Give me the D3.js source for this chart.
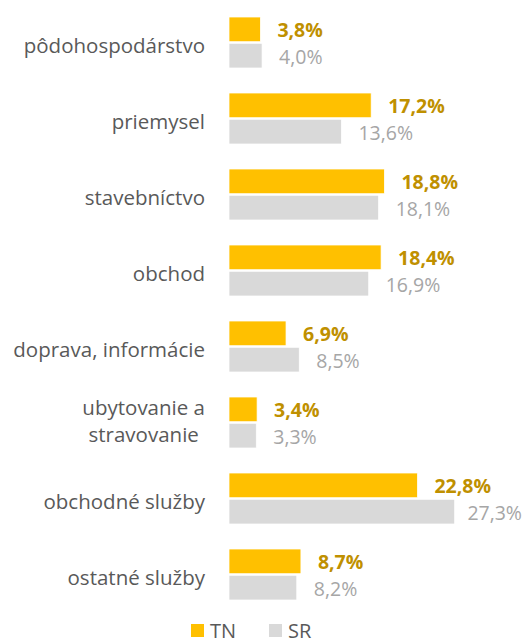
<!DOCTYPE html>
<html>
<head>
  <meta charset="UTF-8">
  <style>
    body {
      margin: 0;
      padding: 0;
      background-color: #fff;
      font-family: "Open Sans", sans-serif;
    }
    svg {
      display: block;
    }
  </style>
</head>
<body>
<svg></svg>
<script src="https://d3js.org/d3.v7.min.js"></script>

<script>
  // data
  let categories = ["pôdohospodárstvo", "priemysel", "stavebníctvo", "obchod",
    "doprava, informácie", "ubytovanie a\nstravovanie", "obchodné služby", "ostatné služby"];
  let series = ["TN", "SR"];
  let tnValues = [3.8, 17.2, 18.8, 18.4, 6.9, 3.4, 22.8, 8.7];
  let srValues = [4.0, 13.6, 18.1, 16.9, 8.5, 3.3, 27.3, 8.2];

  let width = 524, height = 640;
  let colors = { TN: "#FFC000", SR: "#D9D9D9" };
  let labelColors = { TN: "#BF9000", SR: "#A6A6A6" };

  let svg = d3.select("svg")
      .attr("width", width)
      .attr("height", height);

  let rows = categories.map((c, i) => ({ cat: c, TN: tnValues[i], SR: srValues[i] }));

  // scales
  let x = d3.scaleLinear()
      .domain([0, 30])
      .range([229, 229 + 248]);

  let y = d3.scaleBand()
      .domain(categories)
      .range([4.5, 612.5])
      .paddingInner(25 / 76)
      .paddingOuter(25 / 152);

  let ySub = d3.scaleBand()
      .domain(series)
      .range([0, y.bandwidth()])
      .paddingInner(0.06);

  let fmt = v => d3.format(".1f")(v).replace(".", ",") + "%";

  // bars + value labels
  let groups = svg.append("g")
      .selectAll("g")
      .data(rows)
      .enter()
      .append("g")
      .attr("transform", d => `translate(0, ${y(d.cat)})`);

  series.forEach(s => {
    groups.append("rect")
        .attr("x", x(0))
        .attr("y", ySub(s))
        .attr("width", d => x(d[s]) - x(0))
        .attr("height", ySub.bandwidth())
        .attr("fill", colors[s])
        .attr("stroke", "#fff")
        .attr("stroke-width", 0.75);

    groups.append("text")
        .attr("y", ySub(s) + ySub.bandwidth() / 2 + 8)
        .attr("font-size", "19.5px")
        .attr("font-weight", s === "TN" ? "bold" : "normal")
        .attr("fill", labelColors[s])
        .text(d => fmt(d[s]))
        .attr("x", function (d) {
          // keep the label inside the chart, like Excel does
          let w = this.getComputedTextLength();
          return Math.min(x(d[s]) + 17, width - 2 - w);
        });
  });

  // category labels (right aligned, multi-line ones centered within themselves)
  groups.each(function (d) {
    let lines = d.cat.split("\n");
    let cy = y.bandwidth() / 2;
    let g = d3.select(this);
    if (lines.length === 1) {
      g.append("text")
          .attr("x", 205)
          .attr("y", cy + 10.8)
          .attr("text-anchor", "end")
          .attr("font-size", "20.5px")
          .attr("fill", "#595959")
          .text(lines[0]);
    } else {
      let t = g.append("text")
          .attr("font-size", "20.5px")
          .attr("fill", "#595959")
          .attr("text-anchor", "middle");
      let spans = lines.map((l, i) => t.append("tspan")
          .attr("y", cy - 7.5 + i * 27)
          .text(l));
      let maxW = d3.max(spans, sp => sp.node().getComputedTextLength());
      spans.forEach(sp => sp.attr("x", 205 - maxW / 2));
    }
  });

  // legend
  let legend = svg.append("g")
      .selectAll("g")
      .data(series)
      .enter()
      .append("g")
      .attr("transform", (d, i) => `translate(${191 + i * 78}, 624)`);

  legend.append("rect")
      .attr("width", 13)
      .attr("height", 13)
      .attr("fill", d => colors[d]);

  legend.append("text")
      .attr("x", 19)
      .attr("y", 14)
      .attr("font-size", "20px")
      .attr("fill", "#595959")
      .text(d => d);
</script>
</body>
</html>
